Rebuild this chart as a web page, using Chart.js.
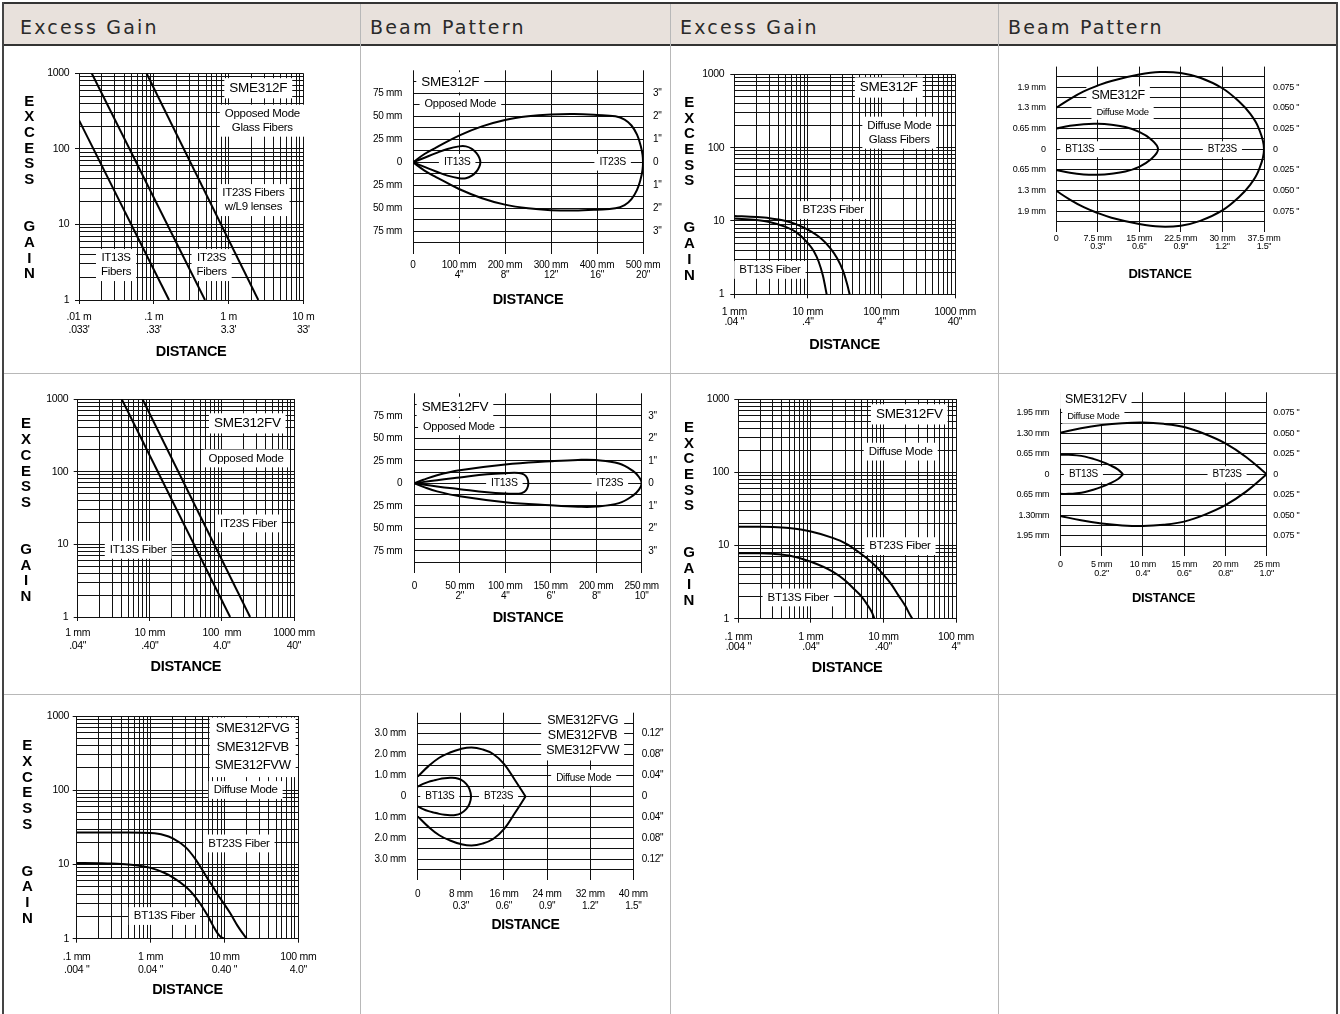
<!DOCTYPE html>
<html>
<head>
<meta charset="utf-8">
<title>SME312F excess gain and beam pattern</title>
<script src="https://cdn.jsdelivr.net/npm/chart.js@4.4.1/dist/chart.umd.min.js"></script>
<style>
  body { margin: 0; width: 1340px; height: 1014px; position: relative; overflow: hidden; background: #fff; }
  .ln { position: absolute; }
  .hd { position: absolute; top: 15px; line-height: 24px; font-family: 'DejaVu Sans', sans-serif; font-size: 19px;
        letter-spacing: 2.2px; color: #2a2a2a; }
  canvas { position: absolute; }
  .vt { position: absolute; width: 20px; text-align: center; color: #000;
        font: bold 15px 'Liberation Sans Narrow', 'Liberation Sans', Arial, sans-serif; line-height: 15.7px; }
</style>
</head>
<body>
<!-- table frame -->
<div class="ln" style="left:4px;top:4px;width:1332px;height:40px;background:#e8e1dc"></div>
<div class="ln" style="left:2px;top:2px;width:1336px;height:2px;background:#333"></div>
<div class="ln" style="left:2px;top:44px;width:1336px;height:2px;background:#333"></div>
<div class="ln" style="left:2px;top:2px;width:2px;height:1012px;background:#444"></div>
<div class="ln" style="left:1336px;top:2px;width:2px;height:1012px;background:#444"></div>
<div class="ln" style="left:360px;top:4px;width:1px;height:1010px;background:#b8b8b8"></div>
<div class="ln" style="left:670px;top:4px;width:1px;height:1010px;background:#b8b8b8"></div>
<div class="ln" style="left:998px;top:4px;width:1px;height:1010px;background:#b8b8b8"></div>
<div class="ln" style="left:4px;top:373px;width:1332px;height:1px;background:#b8b8b8"></div>
<div class="ln" style="left:4px;top:694px;width:1332px;height:1px;background:#b8b8b8"></div>
<div class="hd" style="left:20px">Excess Gain</div>
<div class="hd" style="left:370px">Beam Pattern</div>
<div class="hd" style="left:680px">Excess Gain</div>
<div class="hd" style="left:1008px">Beam Pattern</div>

<script>
const FONT = "'Liberation Sans Narrow', 'Arial Narrow', 'Liberation Sans', Arial, sans-serif";
Chart.defaults.font.family = FONT;
Chart.defaults.color = '#000';

// ---------- data ----------
const gainYTicks = [1, 10, 100, 1000];
const gainYLabels = ['1', '10', '100', '1000'];

// SME312F opposed, excess gain (metres)
const eg1XTicks = [0.01, 0.1, 1, 10];
const eg1XLabels = [['.01 m', ".033'"], ['.1 m', ".33'"], ['1 m', "3.3'"], ['10 m', "33'"]];
const eg1IT13SX = [0.01, 0.16];
const eg1IT13SY = [240, 1];
const eg1IT23SX = [0.0148, 0.484];
const eg1IT23SY = [1000, 1];
const eg1L9X = [0.08, 2.5];
const eg1L9Y = [1000, 1];

// SME312F opposed, beam pattern (mm)
const bp1XTicks = [0, 100, 200, 300, 400, 500];
const bp1XLabels = [['0'], ['100 mm', '4"'], ['200 mm', '8"'], ['300 mm', '12"'], ['400 mm', '16"'], ['500 mm', '20"']];
const bp1YTicks = [75, 50, 25, 0, -25, -50, -75];
const bp1YLabels = ['75 mm', '50 mm', '25 mm', '0', '25 mm', '50 mm', '75 mm'];
const bp1Y2Labels = ['3"', '2"', '1"', '0', '1"', '2"', '3"'];
const bp1IT23SX = [0, 25, 50, 100, 150, 200, 250, 300, 350, 400, 440, 460, 475, 487, 495, 499, 500];
const bp1IT23SY = [0, 9, 16, 29, 39, 46, 50, 52, 52.5, 51.5, 50, 46.5, 40, 30, 18, 8, 0];
const bp1IT13SX = [0, 25, 50, 75, 100, 115, 128, 138, 144, 146.5];
const bp1IT13SY = [0, 5, 10, 14.5, 17.3, 17.3, 14.5, 10, 5, 0];

// SME312F diffuse, excess gain (mm)
const eg2XTicks = [1, 10, 100, 1000];
const eg2XLabels = [['1 mm', '.04 "'], ['10 mm', '.4"'], ['100 mm', '4"'], ['1000 mm', '40"']];
const eg2BT13SX = [1, 2, 3, 5, 7, 10, 12, 14, 16, 17, 18];
const eg2BT13SY = [10.8, 10.3, 9.7, 8.3, 7, 5, 3.9, 2.8, 1.8, 1.35, 1];
const eg2BT23SX = [1, 2, 3, 5, 7, 10, 15, 20, 25, 30, 34, 37];
const eg2BT23SY = [11.7, 11.3, 10.9, 10, 9, 7.6, 5.8, 4.3, 3.1, 2.1, 1.4, 1];

// SME312F diffuse, beam pattern (mm)
const bp2XTicks = [0, 7.5, 15, 22.5, 30, 37.5];
const bp2XLabels = [['0'], ['7.5 mm', '0.3"'], ['15 mm', '0.6"'], ['22.5 mm', '0.9"'], ['30 mm', '1.2"'], ['37.5 mm', '1.5"']];
const bp2YTicks = [1.95, 1.3, 0.65, 0, -0.65, -1.3, -1.95];
const bp2YLabels = ['1.9 mm', '1.3 mm', '0.65 mm', '0', '0.65 mm', '1.3 mm', '1.9 mm'];
const bp2Y2Labels = ['0.075 "', '0.050 "', '0.025 "', '0', '0.025 "', '0.050 "', '0.075 "'];
const bp2BT23SX = [0, 2.5, 5, 7.5, 10, 15, 18.75, 22.5, 26, 30, 33, 35, 36.5, 37.5];
const bp2BT23SY = [1.3, 1.58, 1.82, 2.0, 2.15, 2.35, 2.43, 2.4, 2.25, 1.92, 1.5, 1.12, 0.68, 0];
const bp2BT13SX = [0, 2.5, 5, 7.5, 10, 12.5, 15, 17, 18.4];
const bp2BT13SY = [0.65, 0.74, 0.79, 0.8, 0.77, 0.7, 0.55, 0.33, 0];

// SME312FV opposed, excess gain (mm)
const eg3XTicks = [1, 10, 100, 1000];
const eg3XLabels = [['1 mm', '.04"'], ['10 mm', '.40"'], ['100  mm', '4.0"'], ['1000 mm', '40"']];
const eg3IT13SX = [4.07, 130];
const eg3IT13SY = [1000, 1];
const eg3IT23SX = [7.9, 246];
const eg3IT23SY = [1000, 1];

// SME312FV opposed, beam pattern (mm)
const bp3XTicks = [0, 50, 100, 150, 200, 250];
const bp3XLabels = [['0'], ['50 mm', '2"'], ['100 mm', '4"'], ['150 mm', '6"'], ['200 mm', '8"'], ['250 mm', '10"']];
const bp3YTicks = [75, 50, 25, 0, -25, -50, -75];
const bp3YLabels = ['75 mm', '50 mm', '25 mm', '0', '25 mm', '50 mm', '75 mm'];
const bp3Y2Labels = ['3"', '2"', '1"', '0', '1"', '2"', '3"'];
const bp3IT23SX = [0, 10, 25, 50, 100, 150, 180, 200, 225, 240, 247, 250];
const bp3IT23SY = [0, 4, 9, 14.5, 21, 24.5, 26, 25.8, 22, 14, 7, 0];
const bp3IT13SX = [0, 25, 50, 80, 100, 115, 121, 124, 125.4];
const bp3IT13SY = [0, 3.5, 6.5, 10, 11.3, 11.5, 9.5, 6, 0];

// SME312FV diffuse, excess gain (mm)
const eg4XTicks = [0.1, 1, 10, 100];
const eg4XLabels = [['.1 mm', '.004 "'], ['1 mm', '.04"'], ['10 mm', '.40"'], ['100 mm', '4"']];
const eg4BT13SX = [0.1, 0.2, 0.3, 0.5, 1, 2, 3, 4, 5, 6, 7, 7.5];
const eg4BT13SY = [7.8, 7.8, 7.7, 7.3, 6.0, 4.4, 3.3, 2.5, 2.0, 1.55, 1.2, 1];
const eg4BT23SX = [0.1, 0.2, 0.3, 0.5, 1, 2, 3, 5, 7, 10, 13, 16, 20, 23, 25];
const eg4BT23SY = [18, 18, 17.9, 17.3, 15.5, 12.7, 10.7, 7.6, 5.8, 4.0, 2.9, 2.1, 1.5, 1.15, 1];

// SME312FV diffuse, beam pattern (mm)
const bp4XTicks = [0, 5, 10, 15, 20, 25];
const bp4XLabels = [['0'], ['5 mm', '0.2"'], ['10 mm', '0.4"'], ['15 mm', '0.6"'], ['20 mm', '0.8"'], ['25 mm', '1.0"']];
const bp4YTicks = [1.95, 1.3, 0.65, 0, -0.65, -1.3, -1.95];
const bp4YLabels = ['1.95 mm', '1.30 mm', '0.65 mm', '0', '0.65 mm', '1.30mm', '1.95 mm'];
const bp4Y2Labels = ['0.075 "', '0.050 "', '0.025 "', '0', '0.025 "', '0.050 "', '0.075 "'];
const bp4BT23SX = [0, 2.5, 5, 7.5, 10, 12.5, 15, 17.5, 20, 22.5, 25];
const bp4BT23SY = [1.32, 1.46, 1.56, 1.62, 1.64, 1.6, 1.5, 1.28, 0.98, 0.55, 0];
const bp4BT13SX = [0, 1, 2, 3, 4, 5, 6, 7, 7.6];
const bp4BT13SY = [0.62, 0.62, 0.6, 0.56, 0.49, 0.4, 0.29, 0.15, 0];

// SME312FVG / FVB / FVW diffuse, excess gain (mm)
const eg5XTicks = [0.1, 1, 10, 100];
const eg5XLabels = [['.1 mm', '.004 "'], ['1 mm', '0.04 "'], ['10 mm', '0.40 "'], ['100 mm', '4.0"']];
const eg5BT13SX = [0.1, 0.2, 0.3, 0.5, 0.7, 1, 1.5, 2, 3, 4, 5, 6, 7, 8, 9, 10];
const eg5BT13SY = [10.5, 10.4, 10.3, 10, 9.6, 9, 7.8, 6.7, 5, 3.7, 2.7, 2, 1.5, 1.2, 1.05, 1];
const eg5BT23SX = [0.1, 0.3, 0.5, 1, 1.5, 2, 3, 4, 5, 6, 7, 8, 10, 12, 15, 18, 20];
const eg5BT23SY = [27, 27, 27, 26.5, 25, 22.5, 17, 12, 8.5, 6.3, 5, 4, 2.9, 2.2, 1.5, 1.15, 1];

// SME312FVG / FVB / FVW diffuse, beam pattern (mm)
const bp5XTicks = [0, 8, 16, 24, 32, 40];
const bp5XLabels = [['0'], ['8 mm', '0.3"'], ['16 mm', '0.6"'], ['24 mm', '0.9"'], ['32 mm', '1.2"'], ['40 mm', '1.5"']];
const bp5YTicks = [3, 2, 1, 0, -1, -2, -3];
const bp5YLabels = ['3.0 mm', '2.0 mm', '1.0 mm', '0', '1.0 mm', '2.0 mm', '3.0 mm'];
const bp5Y2Labels = ['0.12"', '0.08"', '0.04"', '0', '0.04"', '0.08"', '0.12"'];
const bp5BT23SX = [0, 2, 4, 6, 8, 10, 12, 14, 16, 18, 20];
const bp5BT23SY = [0.95, 1.45, 1.85, 2.1, 2.27, 2.34, 2.25, 2.03, 1.56, 0.8, 0];
const bp5BT13SX = [0, 1, 2, 3, 4, 5, 6, 7, 8, 9, 9.6, 9.9];
const bp5BT13SY = [0.47, 0.6, 0.7, 0.77, 0.83, 0.87, 0.89, 0.88, 0.8, 0.6, 0.35, 0];

// ---------- helpers ----------
function logValues(min, max) {
  const out = [];
  for (let e = Math.round(Math.log10(min)); Math.pow(10, e) < max * 0.999; e++) {
    for (let m = 1; m < 10; m++) out.push(m * Math.pow(10, e));
  }
  out.push(max);
  return out;
}
function linValues(min, max, step) {
  const out = [];
  const n = Math.round((max - min) / step);
  for (let i = 0; i <= n; i++) out.push(min + i * step);
  return out;
}
function pick(vals, labels, v) {
  const i = vals.findIndex(t => Math.abs(t - v) < 1e-6 * Math.max(1, Math.abs(t)));
  return i < 0 ? '' : labels[i];
}
function isDecade(v) {
  if (!v) return false;
  const l = Math.log10(v);
  return Math.abs(l - Math.round(l)) < 1e-6;
}
function pts(xs, ys) {
  return xs.map((x, i) => ({x: x, y: ys[i]}));
}
function lobe(xs, ys, pointed) {
  const upper = xs.map((x, i) => ({x: x, y: ys[i]}));
  const lower = xs.map((x, i) => ({x: x, y: -ys[i]}));
  if (pointed) return [upper, lower];
  return [upper.concat(lower.slice(0, -1).reverse())];
}
function line(data, mode) {
  return {
    data: data, showLine: true, pointRadius: 0, borderColor: '#000', borderWidth: 2, fill: false,
    tension: mode === 'straight' ? 0 : 0.4,
    cubicInterpolationMode: mode === 'monotone' ? 'monotone' : 'default'
  };
}

// narrower lettering, closer to the condensed face of the original
const tightText = {
  id: 'tightText',
  beforeInit(chart) { chart.ctx.letterSpacing = '-0.3px'; },
  beforeDraw(chart) { chart.ctx.letterSpacing = '-0.3px'; }
};

const boxLabels = {
  id: 'boxLabels',
  beforeDatasetsDraw(chart, args, opts) {
    const items = opts.items || [];
    const ctx = chart.ctx;
    const sx = chart.scales.x, sy = chart.scales.y;
    ctx.save();
    items.forEach(it => {
      const lines = it.text;
      const lh = it.lh || it.size * 1.2;
      ctx.font = it.size + 'px ' + FONT;
      const w = Math.max(...lines.map(t => ctx.measureText(t).width));
      const h = lh * lines.length;
      const cx = sx.getPixelForValue(it.x), cy = sy.getPixelForValue(it.y);
      const padX = 5, padY = 2;
      ctx.fillStyle = '#fff';
      ctx.fillRect(cx - w / 2 - padX, cy - h / 2 - padY, w + 2 * padX, h + 2 * padY);
      ctx.fillStyle = '#000';
      ctx.textAlign = 'center';
      ctx.textBaseline = 'middle';
      lines.forEach((t, i) => ctx.fillText(t, cx, cy - h / 2 + lh * (i + 0.5)));
    });
    ctx.restore();
  }
};

function makeCanvas(L) {
  const cv = document.createElement('canvas');
  cv.width = L.box[2];
  cv.height = L.box[3];
  cv.style.left = L.box[0] + 'px';
  cv.style.top = L.box[1] + 'px';
  cv.style.width = L.box[2] + 'px';
  cv.style.height = L.box[3] + 'px';
  document.body.appendChild(cv);
  return cv;
}
function vertical(x, y) {
  const d = document.createElement('div');
  d.className = 'vt';
  d.style.left = (x - 10) + 'px';
  d.style.top = (y - 7.85) + 'px';
  d.innerHTML = ['E', 'X', 'C', 'E', 'S', 'S', '&nbsp;', '&nbsp;', 'G', 'A', 'I', 'N'].join('<br>');
  document.body.appendChild(d);
}

function gainChart(L, xMin, xMax, xTicks, xLabels, series, notes) {
  const cv = makeCanvas(L);
  const xGrid = logValues(xMin, xMax), yGrid = logValues(1, 1000);
  const tl = 4;
  const xH = L.dist + L.distSize * 0.6 - L.plot[3];
  const boxR = L.box[0] + L.box[2], boxB = L.box[1] + L.box[3];
  const grid = {
    color: '#111', lineWidth: 1, drawTicks: true, tickLength: tl,
    tickColor: c => (c.tick && isDecade(c.tick.value)) ? '#111' : 'rgba(0,0,0,0)'
  };
  new Chart(cv, {
    type: 'scatter',
    data: { datasets: series.map(s => line(pts(s.x, s.y), s.mode)) },
    options: {
      responsive: false, animation: false, events: [],
      layout: { padding: { left: 0, top: L.plot[1] - L.box[1], right: boxR - L.plot[2], bottom: boxB - L.plot[3] - xH } },
      plugins: { legend: { display: false }, tooltip: { enabled: false }, boxLabels: { items: notes } },
      scales: {
        x: {
          type: 'logarithmic', min: xMin, max: xMax,
          afterBuildTicks: s => { s.ticks = xGrid.map(v => ({value: v})); },
          afterFit: s => { s.height = xH; },
          grid: grid, border: { display: false },
          ticks: {
            autoSkip: false, maxRotation: 0, minRotation: 0,
            padding: L.row1 - L.plot[3] - tl - L.gap / 2,
            font: { size: L.tick, lineHeight: L.gap / L.tick },
            callback: v => pick(xTicks, xLabels, v)
          },
          title: { display: true, text: 'DISTANCE', padding: 0, font: { size: L.distSize, weight: 'bold', lineHeight: 1.2 } }
        },
        y: {
          type: 'logarithmic', min: 1, max: 1000,
          afterBuildTicks: s => { s.ticks = yGrid.map(v => ({value: v})); },
          afterFit: s => { s.width = L.plot[0] - L.box[0]; },
          grid: grid, border: { display: false },
          ticks: { autoSkip: false, padding: L.yGap - tl, font: { size: L.tick }, callback: v => pick(gainYTicks, gainYLabels, v) }
        }
      }
    },
    plugins: [tightText, boxLabels]
  });
  vertical(L.vt[0], L.vt[1]);
}

function beamChart(L, xMax, xStep, yMax, yStep, xTicks, xLabels, yTicks, yLabels, y2Labels, lobes, notes) {
  const cv = makeCanvas(L);
  const xGrid = linValues(0, xMax, xStep), yGrid = linValues(-yMax, yMax, yStep);
  const xH = L.dist + L.distSize * 0.6 - L.plot[3];
  const boxB = L.box[1] + L.box[3];
  const datasets = [];
  lobes.forEach(lb => lobe(lb.x, lb.y, lb.pointed).forEach(d => datasets.push(line(d, 'smooth'))));
  new Chart(cv, {
    type: 'scatter',
    data: { datasets: datasets },
    options: {
      responsive: false, animation: false, events: [],
      layout: { padding: { left: 0, top: L.plot[1] - L.box[1], right: 0, bottom: boxB - L.plot[3] - xH } },
      plugins: { legend: { display: false }, tooltip: { enabled: false }, boxLabels: { items: notes } },
      scales: {
        x: {
          type: 'linear', min: 0, max: xMax,
          afterBuildTicks: s => { s.ticks = xGrid.map(v => ({value: v})); },
          afterFit: s => { s.height = xH; },
          grid: { color: '#111', lineWidth: 1, drawTicks: false }, border: { display: false },
          ticks: {
            autoSkip: false, maxRotation: 0, minRotation: 0,
            padding: L.row1 - L.plot[3] - L.gap / 2,
            font: { size: L.tick, lineHeight: L.gap / L.tick },
            callback: v => pick(xTicks, xLabels, v)
          },
          title: { display: true, text: 'DISTANCE', padding: 0, font: { size: L.distSize, weight: 'bold', lineHeight: 1.2 } }
        },
        y: {
          type: 'linear', min: -yMax, max: yMax,
          afterBuildTicks: s => { s.ticks = yGrid.map(v => ({value: v})); },
          afterFit: s => { s.width = L.plot[0] - L.box[0]; },
          grid: {
            lineWidth: 1, drawTicks: false,
            color: c => (c.tick && Math.abs(c.tick.value) > yMax - 1e-6) ? 'rgba(0,0,0,0)' : '#111'
          },
          border: { display: false },
          ticks: { autoSkip: false, padding: L.yGap, font: { size: L.tick }, callback: v => pick(yTicks, yLabels, v) }
        },
        y2: {
          type: 'linear', position: 'right', min: -yMax, max: yMax,
          afterBuildTicks: s => { s.ticks = yGrid.map(v => ({value: v})); },
          afterFit: s => { s.width = L.box[0] + L.box[2] - L.plot[2]; },
          grid: { display: false, drawTicks: false }, border: { display: false },
          ticks: { autoSkip: false, padding: L.y2Gap, font: { size: L.tick }, callback: v => pick(yTicks, y2Labels, v) }
        }
      }
    },
    plugins: [tightText, boxLabels]
  });
}

// ---------- charts ----------
gainChart(
  { box: [4, 46, 355, 326], plot: [79, 73.3, 303.3, 300], tick: 10.5, row1: 316.7, gap: 13.3, dist: 351.7, distSize: 14.5, yGap: 9.7, vt: [29.3, 100.5] },
  0.01, 10, eg1XTicks, eg1XLabels,
  [{ x: eg1IT13SX, y: eg1IT13SY, mode: 'straight' }, { x: eg1IT23SX, y: eg1IT23SY, mode: 'straight' }, { x: eg1L9X, y: eg1L9Y, mode: 'straight' }],
  [
    { x: 2.5, y: 634, text: ['SME312F'], size: 13.5 },
    { x: 2.83, y: 236, text: ['Opposed Mode', 'Glass Fibers'], size: 11.5, lh: 14 },
    { x: 2.15, y: 21, text: ['IT23S Fibers', 'w/L9 lenses'], size: 11.5, lh: 14 },
    { x: 0.0313, y: 2.9, text: ['IT13S', 'Fibers'], size: 11.5, lh: 14 },
    { x: 0.594, y: 2.9, text: ['IT23S', 'Fibers'], size: 11.5, lh: 14 }
  ]
);

beamChart(
  { box: [361, 46, 308, 326], plot: [413, 70.3, 643, 254.3], tick: 10, row1: 265.7, gap: 10, dist: 300, distSize: 14.5, yGap: 11, y2Gap: 10 },
  500, 100, 100, 12.5, bp1XTicks, bp1XLabels, bp1YTicks, bp1YLabels, bp1Y2Labels,
  [{ x: bp1IT23SX, y: bp1IT23SY, pointed: false }, { x: bp1IT13SX, y: bp1IT13SY, pointed: false }],
  [
    { x: 81, y: 87, text: ['SME312F'], size: 13.5 },
    { x: 103, y: 63.4, text: ['Opposed Mode'], size: 11 },
    { x: 96, y: 0, text: ['IT13S'], size: 10.5 },
    { x: 434, y: 0, text: ['IT23S'], size: 10.5 }
  ]
);

gainChart(
  { box: [671, 46, 326, 326], plot: [734.3, 74.3, 955, 294.3], tick: 10.5, row1: 311.7, gap: 10.5, dist: 345, distSize: 14.5, yGap: 10, vt: [689.3, 101.7] },
  1, 1000, eg2XTicks, eg2XLabels,
  [{ x: eg2BT13SX, y: eg2BT13SY, mode: 'monotone' }, { x: eg2BT23SX, y: eg2BT23SY, mode: 'monotone' }],
  [
    { x: 126, y: 660, text: ['SME312F'], size: 13.5 },
    { x: 175, y: 160, text: ['Diffuse Mode', 'Glass Fibers'], size: 11.5, lh: 14 },
    { x: 22, y: 14.1, text: ['BT23S Fiber'], size: 11.5 },
    { x: 3.05, y: 2.15, text: ['BT13S Fiber'], size: 11.5 }
  ]
);

beamChart(
  { box: [999, 46, 336, 326], plot: [1056, 66.6, 1264, 232], tick: 9, row1: 238.3, gap: 8.4, dist: 274.3, distSize: 13, yGap: 10.4, y2Gap: 9 },
  37.5, 7.5, 2.6, 0.325, bp2XTicks, bp2XLabels, bp2YTicks, bp2YLabels, bp2Y2Labels,
  [{ x: bp2BT23SX, y: bp2BT23SY, pointed: false }, { x: bp2BT13SX, y: bp2BT13SY, pointed: false }],
  [
    { x: 11.2, y: 1.68, text: ['SME312F'], size: 12.5 },
    { x: 12, y: 1.17, text: ['Diffuse Mode'], size: 9.5 },
    { x: 4.3, y: 0, text: ['BT13S'], size: 10 },
    { x: 30, y: 0, text: ['BT23S'], size: 10 }
  ]
);

gainChart(
  { box: [4, 374, 355, 319], plot: [77.7, 399, 294, 617], tick: 10.5, row1: 633.3, gap: 13.3, dist: 666.7, distSize: 14.5, yGap: 9.4, vt: [26, 423.3] },
  1, 1000, eg3XTicks, eg3XLabels,
  [{ x: eg3IT13SX, y: eg3IT13SY, mode: 'straight' }, { x: eg3IT23SX, y: eg3IT23SY, mode: 'straight' }],
  [
    { x: 225, y: 462, text: ['SME312FV'], size: 13.5 },
    { x: 216, y: 152, text: ['Opposed Mode'], size: 11.5 },
    { x: 233, y: 19.4, text: ['IT23S Fiber'], size: 11.5 },
    { x: 6.9, y: 8.4, text: ['IT13S Fiber'], size: 11.5 }
  ]
);

beamChart(
  { box: [361, 374, 308, 319], plot: [414.3, 393.3, 641.7, 573.3], tick: 10, row1: 586, gap: 10.7, dist: 618.3, distSize: 14.5, yGap: 12, y2Gap: 6.6 },
  250, 50, 100, 12.5, bp3XTicks, bp3XLabels, bp3YTicks, bp3YLabels, bp3Y2Labels,
  [{ x: bp3IT23SX, y: bp3IT23SY, pointed: false }, { x: bp3IT13SX, y: bp3IT13SY, pointed: false }],
  [
    { x: 44.7, y: 85, text: ['SME312FV'], size: 13.5 },
    { x: 49, y: 63, text: ['Opposed Mode'], size: 11 },
    { x: 99, y: 0, text: ['IT13S'], size: 10.5 },
    { x: 215, y: 0, text: ['IT23S'], size: 10.5 }
  ]
);

gainChart(
  { box: [671, 374, 326, 319], plot: [738.3, 399, 956, 618.7], tick: 10.5, row1: 636.7, gap: 10, dist: 668.3, distSize: 14.5, yGap: 9.3, vt: [689, 426.7] },
  0.1, 100, eg4XTicks, eg4XLabels,
  [{ x: eg4BT13SX, y: eg4BT13SY, mode: 'monotone' }, { x: eg4BT23SX, y: eg4BT23SY, mode: 'monotone' }],
  [
    { x: 22.7, y: 617, text: ['SME312FV'], size: 13.5 },
    { x: 17.3, y: 191, text: ['Diffuse Mode'], size: 11.5 },
    { x: 16.9, y: 9.8, text: ['BT23S Fiber'], size: 11.5 },
    { x: 0.67, y: 1.95, text: ['BT13S Fiber'], size: 11.5 }
  ]
);

beamChart(
  { box: [999, 374, 336, 319], plot: [1060.3, 392.3, 1266.7, 556.3], tick: 9, row1: 565, gap: 9, dist: 598.3, distSize: 13, yGap: 11, y2Gap: 6.6 },
  25, 5, 2.6, 0.325, bp4XTicks, bp4XLabels, bp4YTicks, bp4YLabels, bp4Y2Labels,
  [{ x: bp4BT23SX, y: bp4BT23SY, pointed: true }, { x: bp4BT13SX, y: bp4BT13SY, pointed: true }],
  [
    { x: 4.3, y: 2.38, text: ['SME312FV'], size: 12.5 },
    { x: 4.0, y: 1.85, text: ['Diffuse Mode'], size: 9.5 },
    { x: 2.8, y: 0, text: ['BT13S'], size: 10 },
    { x: 20.2, y: 0, text: ['BT23S'], size: 10 }
  ]
);

gainChart(
  { box: [4, 695, 355, 318], plot: [76.7, 716, 298.3, 938.7], tick: 10.5, row1: 956.7, gap: 13.3, dist: 990, distSize: 14.5, yGap: 7.7, vt: [27.3, 745] },
  0.1, 100, eg5XTicks, eg5XLabels,
  [{ x: eg5BT13SX, y: eg5BT13SY, mode: 'monotone' }, { x: eg5BT23SX, y: eg5BT23SY, mode: 'monotone' }],
  [
    { x: 24.1, y: 378, text: ['SME312FVG', 'SME312FVB', 'SME312FVW'], size: 13, lh: 18.5 },
    { x: 19.4, y: 100.7, text: ['Diffuse Mode'], size: 11.5 },
    { x: 15.7, y: 19.2, text: ['BT23S Fiber'], size: 11.5 },
    { x: 1.54, y: 2.02, text: ['BT13S Fiber'], size: 11.5 }
  ]
);

beamChart(
  { box: [361, 695, 308, 318], plot: [417.7, 709.7, 633.3, 880.3], tick: 10, row1: 894, gap: 12, dist: 925, distSize: 14, yGap: 11.7, y2Gap: 8.4 },
  40, 8, 4, 0.5, bp5XTicks, bp5XLabels, bp5YTicks, bp5YLabels, bp5Y2Labels,
  [{ x: bp5BT23SX, y: bp5BT23SY, pointed: true }, { x: bp5BT13SX, y: bp5BT13SY, pointed: false }],
  [
    { x: 30.6, y: 2.89, text: ['SME312FVG', 'SME312FVB', 'SME312FVW'], size: 12.5, lh: 15 },
    { x: 30.8, y: 0.89, text: ['Diffuse Mode'], size: 10 },
    { x: 4.1, y: 0, text: ['BT13S'], size: 10 },
    { x: 15, y: 0, text: ['BT23S'], size: 10 }
  ]
);
</script>
</body>
</html>
